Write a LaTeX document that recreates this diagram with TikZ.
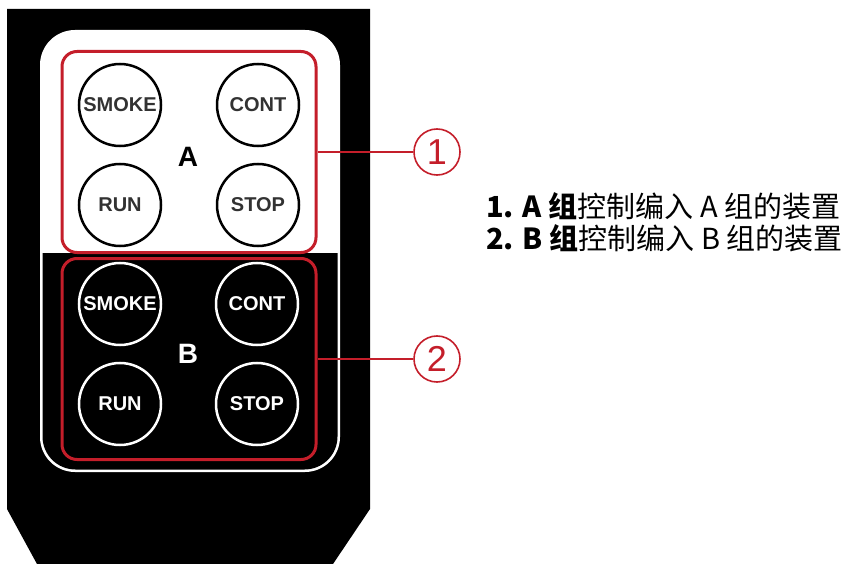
\documentclass[tikz,border=0pt]{standalone}
\usepackage{fontspec}
\setsansfont{Liberation Sans}
\newfontfamily\cjk{Noto Sans CJK SC}
\definecolor{grpred}{RGB}{196,30,42}
\definecolor{keygray}{RGB}{50,50,50}

\begin{document}
\begin{tikzpicture}[x=1pt, y=-1pt,
    key/.style={circle, line width=2.5pt, minimum size=82pt, inner sep=0pt,
        font=\sffamily\bfseries\fontsize{20}{22}\selectfont},
    keyA/.style={key, draw=black, fill=white, text=keygray},
    keyB/.style={key, draw=white, fill=black, text=white},
    grpbox/.style={draw=grpred, line width=3pt, rounded corners=15pt,
        minimum width=254pt, minimum height=201pt, inner sep=0pt},
    grpname/.style={font=\sffamily\bfseries\fontsize{28}{30}\selectfont},
    callnum/.style={circle, draw=grpred, line width=1.6pt, minimum size=46pt,
        inner sep=0pt, text=grpred, font=\sffamily\fontsize{36}{36}\selectfont},
    callline/.style={draw=grpred, line width=2pt},
    notetext/.style={anchor=west, inner sep=0pt,
        font=\cjk\fontsize{29}{32}\selectfont}]

    % --- Frame ---
    \useasboundingbox (0,0) rectangle (846,564);

    % --- Remote body ---
    % black casing, tapering at the bottom
    \fill[black] (7,9) -- (370,9) -- (370,509) -- (333,564)
        -- (37,564) -- (7,509) -- cycle;

    % white face, lower half black with a white rim
    \fill[white, rounded corners=35pt] (40,30) rectangle (340,472);
    \begin{scope}
        \clip (0,253) rectangle (846,564);
        \fill[black, rounded corners=33pt] (42.5,32.5) rectangle (337.5,469.5);
    \end{scope}

    % --- Group boxes ---
    \node[grpbox] (boxA) at (189,152) {};
    \node[grpbox] (boxB) at (189,359) {};

    % --- Keys of group A ---
    \node[keyA] (smokeA) at (120,105) {SMOKE};
    \node[keyA] (contA)  at (258,105) {CONT};
    \node[keyA] (runA)   at (120,205) {RUN};
    \node[keyA] (stopA)  at (258,205) {STOP};
    \node[grpname] (nameA) at (188,157) {A};

    % --- Keys of group B ---
    \node[keyB] (smokeB) at (120,304) {SMOKE};
    \node[keyB] (contB)  at (257,304) {CONT};
    \node[keyB] (runB)   at (120,404) {RUN};
    \node[keyB] (stopB)  at (257,404) {STOP};
    \node[grpname, text=white] (nameB) at (188,354) {B};

    % --- Callouts ---
    \node[callnum] (numA) at (437,152) {1};
    \node[callnum] (numB) at (437,359) {2};
    \draw[callline] (boxA.east) -- (numA.west);
    \draw[callline] (boxB.east) -- (numB.west);

    % --- Notes ---
    \node[notetext] (noteA) at (486,206) {\textbf{1. A 组}控制编入 A 组的装置};
    \node[notetext] (noteB) at (486,238) {\textbf{2. B 组}控制编入 B 组的装置};

\end{tikzpicture}
\end{document}
